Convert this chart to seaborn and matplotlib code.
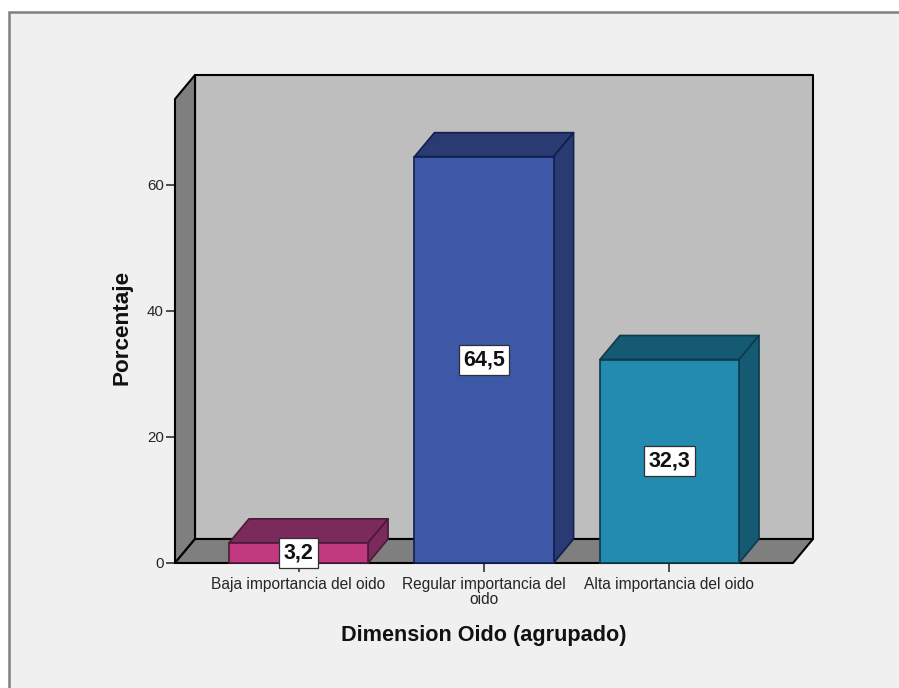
import matplotlib
matplotlib.use("Agg")
import matplotlib.pyplot as plt
from matplotlib.patches import Polygon, Rectangle
import seaborn as sns

# Porcentaje por nivel de la dimension Oido
categories = ["Baja importancia del oido", "Regular importancia del\noido", "Alta importancia del oido"]
percentages = [3.2, 64.5, 32.3]
y_ticks = [0, 20, 40, 60]
x_title = "Dimension Oido (agrupado)"
y_title = "Porcentaje"

front_colors = ["#c13a80", "#3e58a8", "#238bb0"]
side_colors = ["#7b2a5c", "#2a3a72", "#135a72"]
edge_colors = ["#4a1a38", "#101f50", "#0e3a4c"]
PANEL = "#f0f0f0"
WALL = "#bebebe"
SHADE = "#7f7f7f"

sns.set_theme(style="ticks")
plt.rcParams["font.family"] = ["Liberation Sans", "DejaVu Sans"]

W, H = 899, 688
fig = plt.figure(figsize=(W / 100, H / 100), dpi=100, facecolor="white")
fig.add_artist(Rectangle((9 / W, -0.02), 1.02, 1 + 0.02 - 12 / H, transform=fig.transFigure,
                         facecolor=PANEL, edgecolor="#808080", linewidth=1.8, zorder=-5))

ax = fig.add_axes([175 / W, 1 - 563 / H, 618 / W, 464 / H])
ax.patch.set_visible(False)

sns.barplot(x=categories, y=percentages, hue=categories, palette=front_colors,
            width=0.75, saturation=1, legend=False, ax=ax)
ax.set_xlim(-0.666, 2.666)
ax.set_ylim(0, 73.65)
for side in ax.spines.values():
    side.set_visible(False)

# Profundidad de la caja 3D, en unidades de datos
dx = 20 / 185.5
dy = 24 / 6.3
x0, x1 = ax.get_xlim()
y0, y1 = ax.get_ylim()


def face(points, fill, edge="black", z=1.0, lw=1.5):
    ax.add_patch(Polygon(points, closed=True, facecolor=fill, edgecolor=edge,
                         linewidth=lw, joinstyle="round", clip_on=False, zorder=z))


face([(x0 + dx, y0 + dy), (x1 + dx, y0 + dy), (x1 + dx, y1 + dy), (x0 + dx, y1 + dy)], WALL, z=0.5)
face([(x0, y0), (x0 + dx, y0 + dy), (x0 + dx, y1 + dy), (x0, y1)], SHADE, z=0.6)
face([(x0, y0), (x1, y0), (x1 + dx, y0 + dy), (x0 + dx, y0 + dy)], SHADE, z=0.6)

for i, container in enumerate(ax.containers):
    bar = container[0]
    left, right, top = bar.get_x(), bar.get_x() + bar.get_width(), bar.get_height()
    z = 2 + i
    face([(left, top), (right, top), (right + dx, top + dy), (left + dx, top + dy)],
         side_colors[i], edge_colors[i], z=z, lw=1.2)
    face([(right, 0), (right + dx, dy), (right + dx, top + dy), (right, top)],
         side_colors[i], edge_colors[i], z=z, lw=1.2)
    bar.set_edgecolor(edge_colors[i])
    bar.set_linewidth(1.2)
    bar.set_zorder(z + 0.5)
    bar.set_clip_on(False)
    labels = ax.bar_label(container, labels=[f"{top:.1f}".replace(".", ",")], label_type="center",
                          fontsize=15.5, fontweight="bold", color="#111111",
                          bbox=dict(boxstyle="square,pad=0.2", facecolor="white",
                                    edgecolor="#303030", linewidth=0.9))
    for lab in labels:
        lab.set_zorder(10)

ax.set_yticks(y_ticks)
ax.tick_params(axis="both", which="major", bottom=True, left=True, length=6.5, width=1.2,
               color="#303030", labelcolor="#262626")
ax.tick_params(axis="x", pad=3.5, labelsize=11.2)
ax.tick_params(axis="y", pad=1.5, labelsize=10.8)
for tick in ax.get_xticklabels():
    tick.set_linespacing(1.0)

fig.text(484 / W, 1 - 635 / H, x_title, ha="center", va="center",
         fontsize=15.6, fontweight="bold", color="#111111")
fig.text(122 / W, 1 - 327 / H, y_title, ha="center", va="center", rotation=90,
         fontsize=16.2, fontweight="bold", color="#111111")

fig.savefig("out.png", dpi=100, facecolor=fig.get_facecolor())
